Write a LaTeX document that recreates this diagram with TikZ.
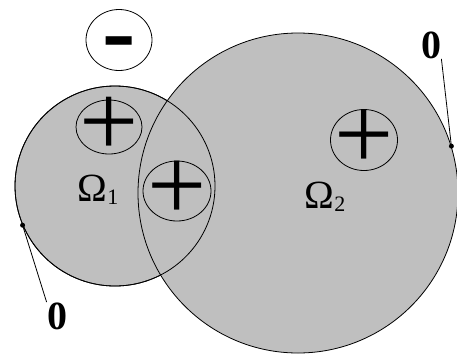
\documentclass[tikz,border=0pt]{standalone}
\usepackage{fontspec}
\setmainfont{Liberation Serif}
\usetikzlibrary{shapes.geometric}
\newcommand{\idx}[1]{{\fontsize{22}{22}\selectfont\raisebox{-3pt}{#1}}}

\begin{document}
\begin{tikzpicture}[x=1pt,y=-1pt,line width=0.8pt,
  region/.style={circle,draw,fill=black!25,inner sep=0pt},
  ring/.style={ellipse,draw,inner sep=0pt},
  sign/.style={inner sep=0pt,font=\fontsize{105}{105}\selectfont},
  zero/.style={inner sep=0pt,font=\bfseries\fontsize{40}{40}\selectfont},
  lbl/.style={inner sep=0pt,font=\fontsize{40}{40}\selectfont}]
  \useasboundingbox (0,0) rectangle (457,354);
  \node[region,minimum size=200pt] (O1) at (115,186) {};
  \node[region,minimum size=320pt] (O2) at (298,193) {};
  \draw (O1.center) circle[radius=100pt];
  \node[ring,fill=white,minimum width=66pt,minimum height=61pt] (m) at (119,40) {};
  \node[sign,yshift=-11pt,font=\bfseries\fontsize{100}{100}\selectfont] at (m) {-};
  \node[ring,minimum width=66pt,minimum height=54pt] (p1) at (109,127) {};
  \node[sign] at (p1) {+};
  \node[ring,minimum width=68pt,minimum height=60pt] (p2) at (177,191) {};
  \node[sign] at (p2) {+};
  \node[ring,minimum width=67pt,minimum height=61pt] (p3) at (364,140) {};
  \node[sign] at (p3) {+};
  \node[lbl] (w1) at (98,190) {Ω\idx{1}};
  \node[lbl] (w2) at (325,197) {Ω\idx{2}};
  \node[zero] (z1) at (57,316) {0};
  \node[zero] (z2) at (431,45) {0};
  \fill (O1.203) circle[radius=2.5pt];
  \fill (O2.17) circle[radius=2.5pt];
  \draw (O1.203) -- (z1.north west);
  \draw (O2.17) -- (z2.south east);
\end{tikzpicture}
\end{document}
